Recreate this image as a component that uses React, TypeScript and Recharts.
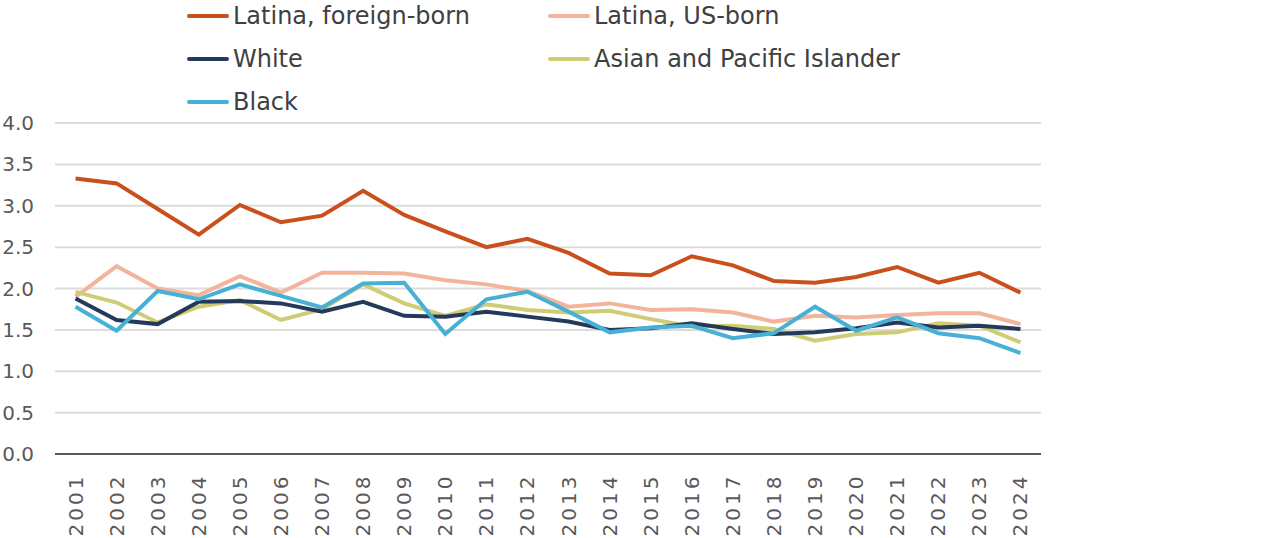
import React from "react";
import { LineChart, Line, XAxis, YAxis, CartesianGrid, Legend } from "recharts";

const years = [
  "2001", "2002", "2003", "2004", "2005", "2006", "2007", "2008", "2009", "2010", "2011", "2012",
  "2013", "2014", "2015", "2016", "2017", "2018", "2019", "2020", "2021", "2022", "2023", "2024",
];

const latinaForeignBorn = [
  3.33, 3.27, 2.96, 2.65, 3.01, 2.8, 2.88, 3.18, 2.89, 2.69, 2.5, 2.6,
  2.43, 2.18, 2.16, 2.39, 2.28, 2.09, 2.07, 2.14, 2.26, 2.07, 2.19, 1.95,
];
const latinaUsBorn = [
  1.9, 2.27, 2.0, 1.92, 2.15, 1.95, 2.19, 2.19, 2.18, 2.1, 2.05, 1.97,
  1.78, 1.82, 1.74, 1.75, 1.71, 1.6, 1.67, 1.65, 1.68, 1.7, 1.7, 1.57,
];
const white = [
  1.88, 1.62, 1.57, 1.84, 1.85, 1.82, 1.72, 1.84, 1.67, 1.66, 1.72, 1.66,
  1.6, 1.5, 1.52, 1.58, 1.51, 1.45, 1.47, 1.52, 1.59, 1.53, 1.55, 1.51,
];
const asianPacific = [
  1.96, 1.83, 1.59, 1.78, 1.86, 1.62, 1.75, 2.05, 1.82, 1.67, 1.81, 1.74,
  1.71, 1.73, 1.63, 1.54, 1.55, 1.51, 1.37, 1.45, 1.47, 1.58, 1.55, 1.35,
];
const black = [
  1.78, 1.49, 1.97, 1.87, 2.05, 1.91, 1.77, 2.06, 2.07, 1.45, 1.87, 1.96,
  1.72, 1.47, 1.53, 1.55, 1.4, 1.46, 1.78, 1.49, 1.65, 1.46, 1.4, 1.22,
];

const yTicks = [0, 0.5, 1, 1.5, 2, 2.5, 3, 3.5, 4];

const series = [
  { key: "foreign", name: "Latina, foreign-born", color: "#c9501c", values: latinaForeignBorn },
  { key: "usborn", name: "Latina, US-born", color: "#f3b49c", values: latinaUsBorn },
  { key: "api", name: "Asian and Pacific Islander", color: "#cfcc76", values: asianPacific },
  { key: "white", name: "White", color: "#253a5b", values: white },
  { key: "black", name: "Black", color: "#47b1d5", values: black },
];

const legendOrder = ["foreign", "usborn", "white", "api", "black"];

const data = years.map((year, i) => {
  const row: Record<string, string | number> = { year };
  series.forEach((s) => {
    row[s.key] = s.values[i];
  });
  return row;
});

const font = "'DejaVu Sans', sans-serif";

// rotated year labels, centred under each point
const YearTick = (props: any) => {
  const { x, y, payload } = props;
  const cy = y + 51;
  return (
    <text
      x={x}
      y={cy}
      transform={`rotate(-90, ${x}, ${cy})`}
      textAnchor="middle"
      dominantBaseline="central"
      fill="#595959"
      fontSize={20}
      letterSpacing={3}
      fontFamily={font}
    >
      {payload.value}
    </text>
  );
};

const LegendBox = () => (
  <div
    style={{
      display: "grid",
      gridTemplateColumns: "361px 400px",
      paddingLeft: 187,
      height: 112,
      fontFamily: font,
    }}
  >
    {legendOrder.map((k) => {
      const s = series.find((d) => d.key === k)!;
      return (
        <div key={k} style={{ display: "flex", alignItems: "center", height: 43, whiteSpace: "nowrap" }}>
          <span
            style={{ width: 42, height: 4, background: s.color, borderRadius: 2, marginRight: 4, flexShrink: 0 }}
          />
          <span style={{ fontSize: 24, color: "#404040" }}>{s.name}</span>
        </div>
      );
    })}
  </div>
);

export default function App() {
  return (
    <div style={{ position: "absolute", left: 0, top: 0 }}>
      <LineChart
        width={1280}
        height={538}
        data={data}
        margin={{ top: 11, right: 239, bottom: 0, left: 0 }}
      >
        <Legend
          verticalAlign="top"
          align="left"
          content={<LegendBox />}
          wrapperStyle={{ top: -6, left: 0, width: 1280 }}
        />
        <CartesianGrid vertical={false} stroke="#dcdcdc" strokeWidth={2} />
        <XAxis
          dataKey="year"
          interval={0}
          scale="band"
          height={84}
          tickLine={false}
          tickSize={0}
          tickMargin={0}
          axisLine={{ stroke: "#595959", strokeWidth: 2 }}
          tick={<YearTick />}
        />
        <YAxis
          width={55}
          domain={[0, 4]}
          ticks={yTicks}
          tickFormatter={(v: number) => v.toFixed(1)}
          axisLine={false}
          tickLine={false}
          tickSize={0}
          tickMargin={21}
          tick={{ fill: "#595959", fontSize: 20, fontFamily: font }}
        />
        {series.map((s) => (
          <Line
            key={s.key}
            dataKey={s.key}
            name={s.name}
            stroke={s.color}
            strokeWidth={4}
            dot={false}
            activeDot={false}
            isAnimationActive={false}
          />
        ))}
      </LineChart>
    </div>
  );
}
